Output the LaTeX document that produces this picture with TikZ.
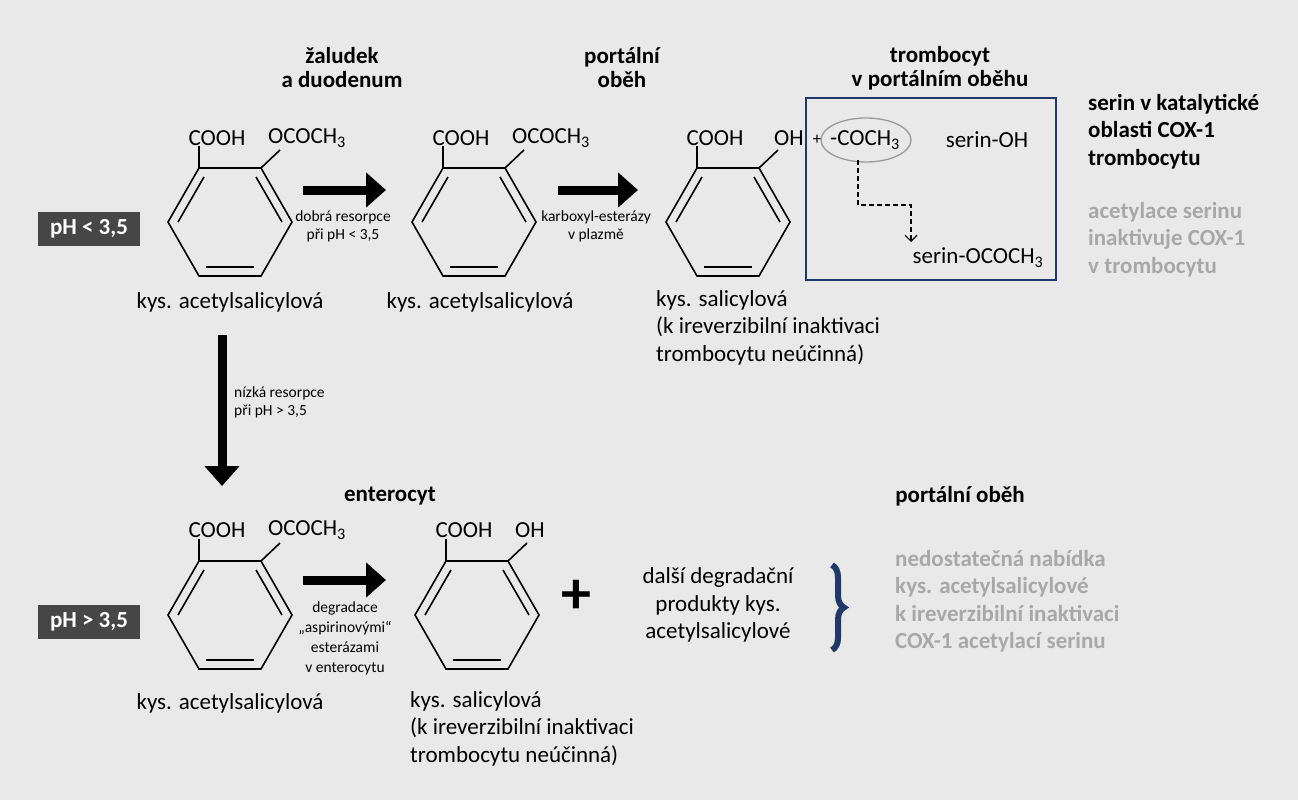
\documentclass[tikz,border=0pt]{standalone}
\usepackage{fontspec}
\setmainfont{Carlito}
\usetikzlibrary{positioning,arrows.meta,decorations.pathreplacing}

\definecolor{bg}{HTML}{E9E9E9}
\definecolor{navy}{HTML}{1F3A68}
\definecolor{boxgrey}{HTML}{464646}
\definecolor{txtgrey}{HTML}{A8A8A8}

\tikzset{
  lab/.style={font=\fontsize{23}{27}\selectfont, inner sep=0pt},
  small/.style={font=\fontsize{15.5}{18}\selectfont, align=center, inner sep=0pt},
  head/.style={font=\fontsize{23}{24}\selectfont\bfseries, align=center, inner sep=0pt},
  side/.style={font=\fontsize{23}{27.5}\selectfont\bfseries, align=left, anchor=north west, inner sep=0pt},
  ph/.style={fill=boxgrey, text=white, font=\fontsize{23}{24}\selectfont\bfseries, minimum width=102pt, minimum height=34pt},
  bigarrow/.style={line width=9pt, -{Triangle[length=20pt,width=34pt]}},
}

% benzene ring with flat top: centre x, y
\newcommand{\ring}[2]{%
  \begin{scope}[shift={(#1,#2)}, line width=1.6pt]
    \draw (-62,0) -- (-31,-54) -- (31,-54) -- (62,0) -- (31,54) -- (-31,54) -- cycle;
    \draw (-52,0) -- (-26,-45);
    \draw (52,0) -- (26,-45);
    \draw (-24,45) -- (24,45);
    \draw (-31,-54) -- (-31,-76);
    \draw (31,-54) -- (50,-72);
  \end{scope}}

\begin{document}
\begin{tikzpicture}[x=1pt,y=-1pt]
  \fill[bg] (0,0) rectangle (1298,800);

  % headers
  \node[head] (hstom) at (342,68) {žaludek\\a duodenum};
  \node[head] (hport) at (622,68) {portální\\oběh};
  \node[head] (htromb) at (940,68) {trombocyt\\v portálním oběhu};
  \node[head] (hentero) at (390,496) {enterocyt};
  \node[head] (hport2) at (960,496) {portální oběh};

  % rings
  \ring{230}{222}
  \ring{474}{222}
  \ring{728}{222}
  \ring{230}{615}
  \ring{477}{615}

  % substituents
  \node[lab] (c1) at (217,138) {COOH};
  \node[lab] (o1) at (307,138) {OCOCH\textsubscript{3}};
  \node[lab] (c2) at (461,138) {COOH};
  \node[lab] (o2) at (551,138) {OCOCH\textsubscript{3}};
  \node[lab] (c3) at (715,138) {COOH};
  \node[lab] (o3) at (789,138) {OH};
  \node[lab] (c4) at (217,530) {COOH};
  \node[lab] (o4) at (307,530) {OCOCH\textsubscript{3}};
  \node[lab] (c5) at (464,530) {COOH};
  \node[lab] (o5) at (530,530) {OH};

  % names
  \node[lab] (asa1) at (230,302) {kys. acetylsalicylová};
  \node[lab] (asa2) at (480,302) {kys. acetylsalicylová};
  \node[lab, align=left, anchor=north west, font=\fontsize{23}{27.5}\selectfont] (sal1) at (656,290) {kys. salicylová\\(k ireverzibilní inaktivaci\\trombocytu neúčinná)};
  \node[lab] (asa3) at (230,703) {kys. acetylsalicylová};
  \node[lab, align=left, anchor=north west, font=\fontsize{23}{27.5}\selectfont] (sal2) at (410,691) {kys. salicylová\\(k ireverzibilní inaktivaci\\trombocytu neúčinná)};

  % pH boxes
  \node[ph] (ph1) at (89,229) {pH < 3,5};
  \node[ph] (ph2) at (89,622) {pH > 3,5};

  % arrows
  \coordinate (a1s) at (303,190); \coordinate (a1e) at (386,190);
  \coordinate (a2s) at (558,190); \coordinate (a2e) at (638,190);
  \coordinate (a3s) at (222,335); \coordinate (a3e) at (222,486);
  \coordinate (a4s) at (303,580); \coordinate (a4e) at (386,580);
  \draw[bigarrow] (a1s) -- (a1e);
  \draw[bigarrow] (a2s) -- (a2e);
  \draw[bigarrow] (a3s) -- (a3e);
  \draw[bigarrow] (a4s) -- (a4e);
  \node[small] (l1) at (343,226) {dobrá resorpce\\při pH < 3,5};
  \node[small] (l2) at (596,226) {karboxyl-esterázy\\v plazmě};
  \node[small, align=left, anchor=west] (l3) at (234,402) {nízká resorpce\\při pH > 3,5};
  \node[small, font=\fontsize{15.5}{20}\selectfont] (l4) at (345,638) {degradace\\„aspirinovými“\\esterázami\\v enterocytu};

  % platelet box
  \draw[navy, line width=2.5pt] (806,98) rectangle (1056,280);
  \node[lab, font=\fontsize{17}{18}\selectfont] (plus1) at (817,140) {+};
  \node[lab] (acyl) at (865,140) {-COCH\textsubscript{3}};
  \draw[gray!80, line width=1.3pt] (866,140) ellipse (45 and 22);
  \node[lab] (ser) at (987,140) {serin-OH};
  \node[lab] (serac) at (978,258) {serin-OCOCH\textsubscript{3}};
  \draw[dash pattern=on 5pt off 3pt, line width=1.2pt, -{Straight Barb[length=6pt,width=12pt]}] (858,160) |- (911,205) -- (911,242);

  % right texts
  \node[side] (t1) at (1088,94) {serin v katalytické\\oblasti COX-1\\trombocytu};
  \node[side, text=txtgrey] (t2) at (1088,202) {acetylace serinu\\inaktivuje COX-1\\v trombocytu};

  % bottom right
  \node[font=\fontsize{60}{60}\selectfont\bfseries, inner sep=0pt] (plus2) at (576,597) {+};
  \node[lab, align=center, font=\fontsize{23}{27.5}\selectfont] (deg) at (718,605) {další degradační\\produkty kys.\\acetylsalicylové};
  \draw[navy, line width=6pt, decorate, decoration={brace, amplitude=12pt}] (832,565) -- (832,650);
  \node[side, text=txtgrey] (t3) at (895,550) {nedostatečná nabídka\\kys. acetylsalicylové\\k ireverzibilní inaktivaci\\COX-1 acetylací serinu};
\end{tikzpicture}
\end{document}
